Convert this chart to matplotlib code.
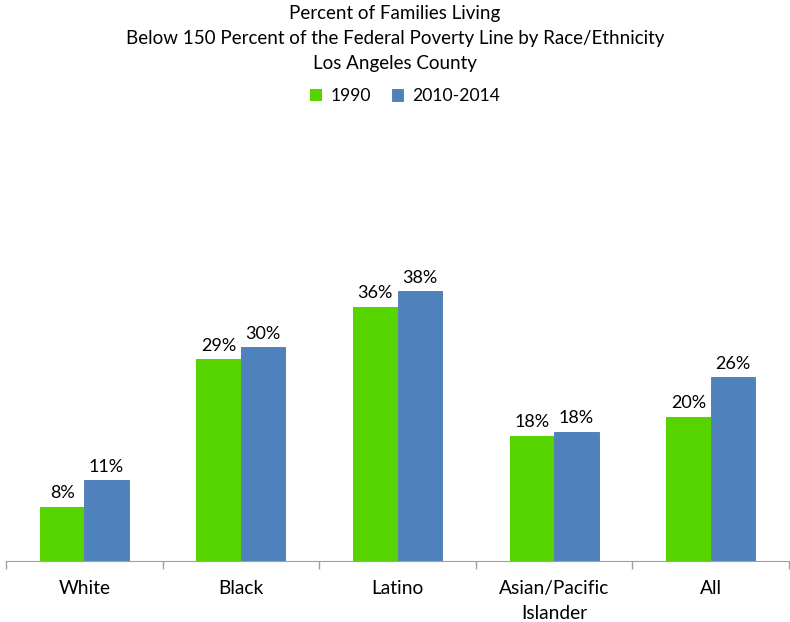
import matplotlib.pyplot as plt
import numpy as np

plt.rcParams['font.family'] = ['Lato', 'DejaVu Sans']

categories = ['White', 'Black', 'Latino', 'Asian/Pacific\nIslander', 'All']
vals_1990 = [7.6, 28.4, 35.8, 17.6, 20.3]
vals_2010 = [11.4, 30.1, 38.0, 18.2, 25.9]
labels_1990 = ['8%', '29%', '36%', '18%', '20%']
labels_2010 = ['11%', '30%', '38%', '18%', '26%']

green = '#55d400'
blue = '#4f81bd'

fig = plt.figure(figsize=(7.9, 6.22), dpi=100)
ax = fig.add_axes([6 / 790, 1 - 561 / 622, 783 / 790, 426 / 622])

x = np.arange(len(categories))
w = 0.284
b1 = ax.bar(x - w / 2, vals_1990, w, color=green, label='1990')
b2 = ax.bar(x + w / 2, vals_2010, w, color=blue, edgecolor='#4a78b0', linewidth=0.6, label='2010-2014')

for bars, labs in [(b1, labels_1990), (b2, labels_2010)]:
    for r, t in zip(bars, labs):
        ax.annotate(t, (r.get_x() + r.get_width() / 2, r.get_height()),
                    xytext=(0, 4), textcoords='offset points',
                    ha='center', va='bottom', fontsize=13)

ax.set_xlim(-0.5, 4.5)
ax.set_ylim(0, 60)
ax.set_yticks([])
ax.set_xticks(x)
ax.set_xticklabels(categories, fontsize=13.8, linespacing=1.6)
ax.tick_params(axis='x', length=0, pad=13.5)
ax.set_xticks(np.arange(-0.5, 5, 1), minor=True)
ax.tick_params(axis='x', which='minor', length=6, color='#a0a0a0', width=1)
for s in ['top', 'right', 'left']:
    ax.spines[s].set_visible(False)
ax.spines['bottom'].set_color('#a0a0a0')

fig.text(0.5, 1 - 5 / 622, 'Percent of Families Living\nBelow 150 Percent of the Federal Poverty Line by Race/Ethnicity\nLos Angeles County',
         ha='center', va='top', fontsize=13.5, linespacing=1.58)
fig.legend(handles=[b1, b2], loc='center', bbox_to_anchor=(0.513, 1 - 96 / 622),
           ncol=2, frameon=False, fontsize=12.6, handlelength=0.65, handleheight=0.65,
           handletextpad=0.5, columnspacing=1.2)

fig.savefig('out.png', dpi=100)
